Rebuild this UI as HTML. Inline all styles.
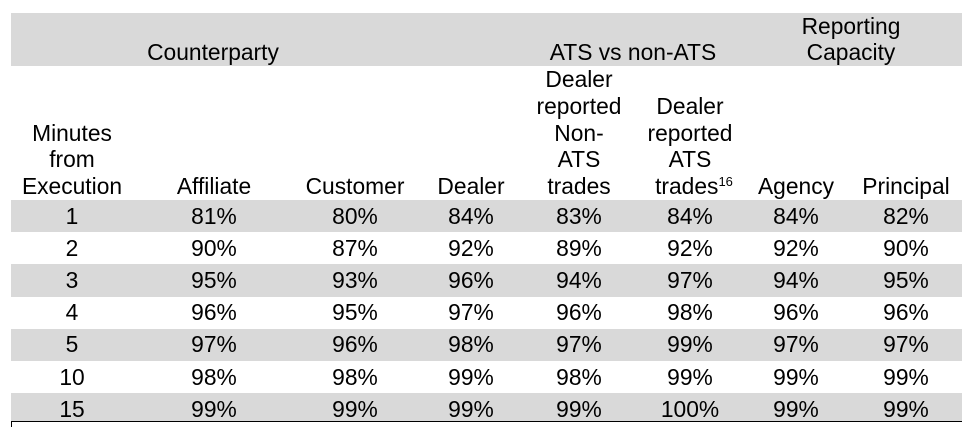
<!DOCTYPE html>
<html><head><meta charset="utf-8"><style>
body{margin:0;width:970px;height:427px;background:#fff;position:relative;overflow:hidden;font-family:"Liberation Sans",Arial,sans-serif;font-size:22.8px;color:#000}
.g{position:absolute;left:11px;width:951px;background:#d9d9d9}
.t{position:absolute;width:200px;text-align:center;line-height:27px;height:27px;white-space:nowrap}
sup{font-size:13px;vertical-align:top;line-height:13px;position:relative;top:2px}
</style></head><body>
<div class="g" style="top:13px;height:53px"></div>
<div class="g" style="top:200px;height:32px"></div>
<div class="g" style="top:264px;height:33px"></div>
<div class="g" style="top:329px;height:32px"></div>
<div class="g" style="top:393px;height:28px"></div>
<div style="position:absolute;left:11px;top:421px;width:951px;height:1px;background:#000"></div>
<div style="position:absolute;left:11px;top:422px;width:1px;height:5px;background:#000"></div>
<div id="c"></div>
<script>
var h='';
function t(cx,cy,s){h+='<div class="t" style="left:'+(cx-100)+'px;top:'+(cy-13.5)+'px">'+s+'</div>';}
t(213,52,'Counterparty');t(633,52,'ATS vs non-ATS');t(851,26,'Reporting');t(851,52,'Capacity');
t(72,133,'Minutes');t(72,159,'from');t(72,186,'Execution');
t(214,186,'Affiliate');t(355,186,'Customer');t(471,186,'Dealer');
t(579,79,'Dealer');t(579,106,'reported');t(579,133,'Non-');t(579,159,'ATS');t(579,186,'trades');
t(690,106,'Dealer');t(690,133,'reported');t(690,159,'ATS');t(694,186,'trades<sup>16</sup>');
t(796,186,'Agency');t(906,186,'Principal');
var cx=[72,214,355,471,579,690,796,906];
var d=[['1','81%','80%','84%','83%','84%','84%','82%'],['2','90%','87%','92%','89%','92%','92%','90%'],['3','95%','93%','96%','94%','97%','94%','95%'],['4','96%','95%','97%','96%','98%','96%','96%'],['5','97%','96%','98%','97%','99%','97%','97%'],['10','98%','98%','99%','98%','99%','99%','99%'],['15','99%','99%','99%','99%','100%','99%','99%']];
for(var i=0;i<7;i++)for(var j=0;j<8;j++)t(cx[j],216+32.2*i,d[i][j]);
document.getElementById('c').innerHTML=h;
</script>
</body></html>
